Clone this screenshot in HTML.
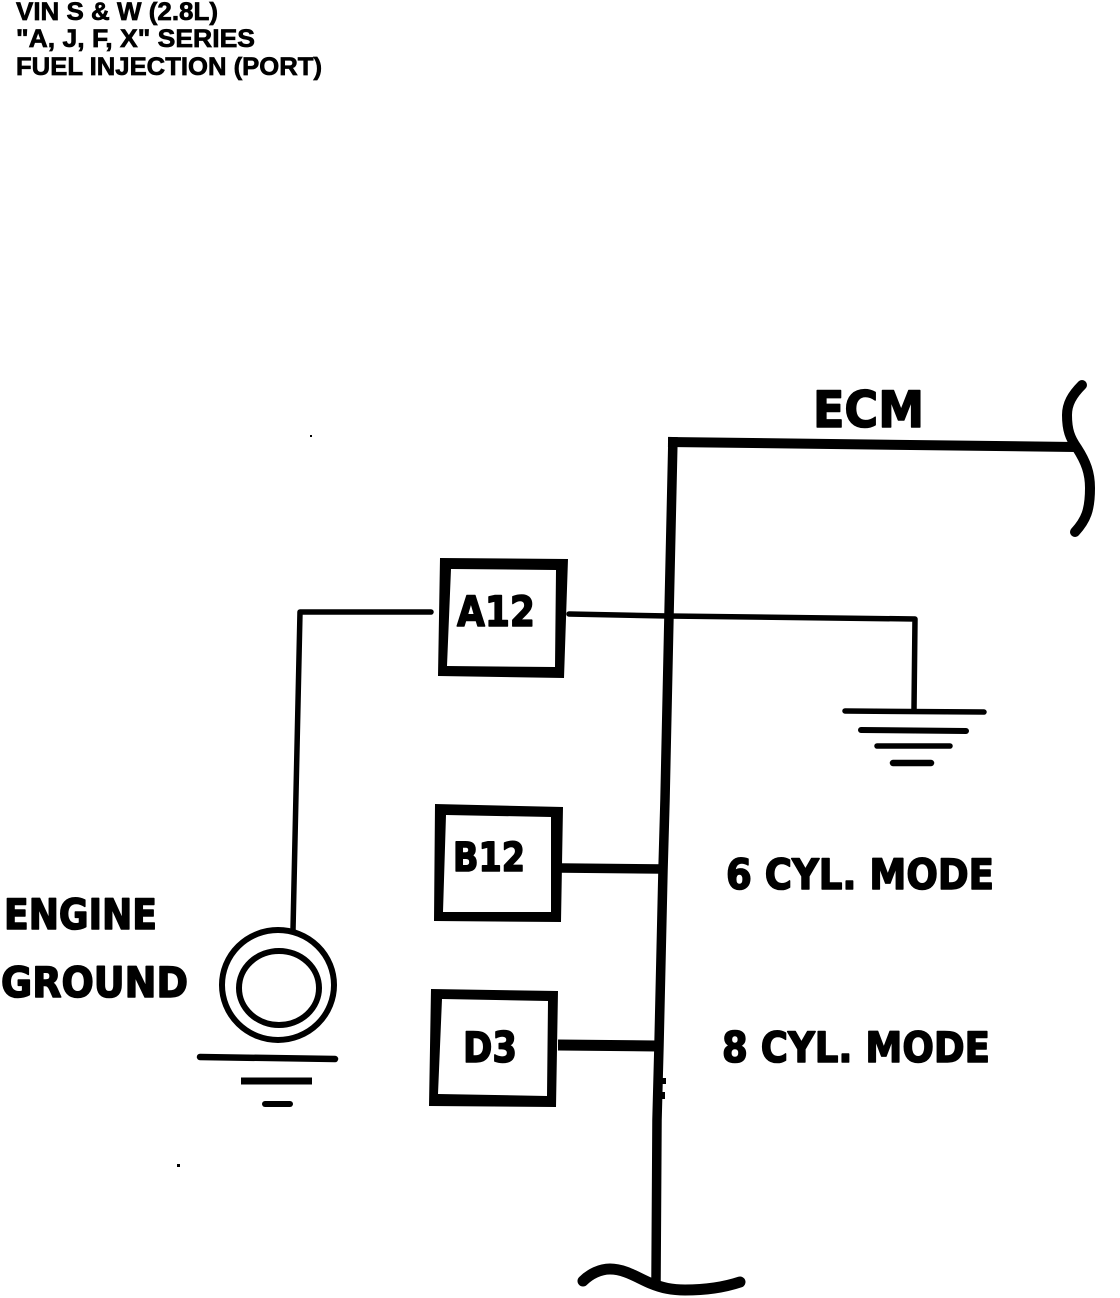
<!DOCTYPE html>
<html>
<head>
<meta charset="utf-8">
<style>
html,body{margin:0;padding:0;background:#fff;}
svg{display:block;}
.h{font-family:"Liberation Sans",sans-serif;font-weight:bold;font-size:25px;fill:#000;stroke:#000;stroke-width:.7px;}
.l{font-family:"DejaVu Sans","Liberation Sans",sans-serif;font-weight:bold;fill:#000;stroke:#000;stroke-width:1.6px;stroke-linejoin:round;}
</style>
</head>
<body>
<svg width="1120" height="1298" viewBox="0 0 1120 1298" xmlns="http://www.w3.org/2000/svg">
<rect width="1120" height="1298" fill="#fff"/>
<text class="h" x="16" y="20" textLength="202" lengthAdjust="spacingAndGlyphs">VIN S &amp; W (2.8L)</text>
<text class="h" x="16" y="47" textLength="239" lengthAdjust="spacingAndGlyphs">"A, J, F, X" SERIES</text>
<text class="h" x="16" y="75" textLength="306" lengthAdjust="spacingAndGlyphs">FUEL INJECTION (PORT)</text>

<g fill="none" stroke="#000" stroke-linecap="round" stroke-linejoin="round">
  <polyline points="668,442 1075,447" stroke-width="10" stroke-linecap="butt"/>
  <polyline points="673,437 669,615 665,800 663,870 659,1045 657,1120 656,1282" stroke-width="9.5" stroke-linecap="butt"/>
  <path d="M1082,385 C1072,395 1067,404 1067,415 C1067,430 1070,438 1077,448 C1086,462 1090,473 1090,488 C1090,510 1086,520 1075,532" stroke-width="10"/>
  <path d="M583,1281 C590,1274 600,1269 610,1269 C625,1269 638,1278 650,1283 C662,1288 672,1290 685,1290 C705,1290 722,1288 740,1282" stroke-width="11"/>

  <polyline points="569,614 668,616 915,619 914,710" stroke-width="5.5"/>
  <polyline points="431,612 300,612 293,930" stroke-width="5.5"/>
  <line x1="561" y1="868" x2="662" y2="869" stroke-width="9.5" stroke-linecap="butt"/>
  <line x1="558" y1="1045" x2="657" y2="1046" stroke-width="11" stroke-linecap="butt"/>

  <line x1="845" y1="711" x2="984" y2="712" stroke-width="5.5"/>
  <line x1="861" y1="730" x2="966" y2="731" stroke-width="6"/>
  <line x1="877" y1="746" x2="950" y2="746" stroke-width="5.5"/>
  <line x1="893" y1="763" x2="931" y2="763" stroke-width="6.5"/>

  <ellipse cx="278" cy="985" rx="56" ry="55" stroke-width="6"/>
  <ellipse cx="279" cy="988" rx="40" ry="37" stroke-width="6"/>
  <line x1="200" y1="1057" x2="335" y2="1059" stroke-width="6.5"/>
  <line x1="241" y1="1081" x2="312" y2="1081" stroke-width="7" stroke-linecap="butt"/>
  <line x1="265" y1="1104" x2="290" y2="1104" stroke-width="6"/>
</g>

<g fill="#000" fill-rule="evenodd">
  <path d="M440,558 L568,559 L564,678 L438,676 Z M451,569 L447,666 L555,667 L556,570 Z"/>
  <path d="M435,804 L563,807 L561,922 L434,921 Z M446,815 L443,912 L551,912 L551,817 Z"/>
  <path d="M431,989 L558,991 L556,1107 L429,1106 Z M442,999 L438,1094 L547,1096 L548,1001 Z"/>
  <rect x="310" y="435" width="2" height="2"/>
  <rect x="177" y="1164" width="3" height="3"/>
</g>
<rect x="661" y="1078" width="5" height="6" fill="#000"/>
<rect x="661" y="1092" width="4" height="7" fill="#000"/>

<text class="l" x="813" y="427" font-size="50" textLength="111" lengthAdjust="spacingAndGlyphs">ECM</text>
<text class="l" x="457" y="626" font-size="42" textLength="78" lengthAdjust="spacingAndGlyphs">A12</text>
<text class="l" x="453" y="871" font-size="40" textLength="72" lengthAdjust="spacingAndGlyphs">B12</text>
<text class="l" x="463" y="1062" font-size="42" textLength="54" lengthAdjust="spacingAndGlyphs">D3</text>
<text class="l" x="4" y="929" font-size="42" textLength="153" lengthAdjust="spacingAndGlyphs">ENGINE</text>
<text class="l" x="1" y="997" font-size="42" textLength="187" lengthAdjust="spacingAndGlyphs">GROUND</text>
<text class="l" x="726" y="889" font-size="42" textLength="268" lengthAdjust="spacingAndGlyphs">6 CYL. MODE</text>
<text class="l" x="722" y="1062" font-size="42" textLength="268" lengthAdjust="spacingAndGlyphs">8 CYL. MODE</text>
</svg>
</body>
</html>
